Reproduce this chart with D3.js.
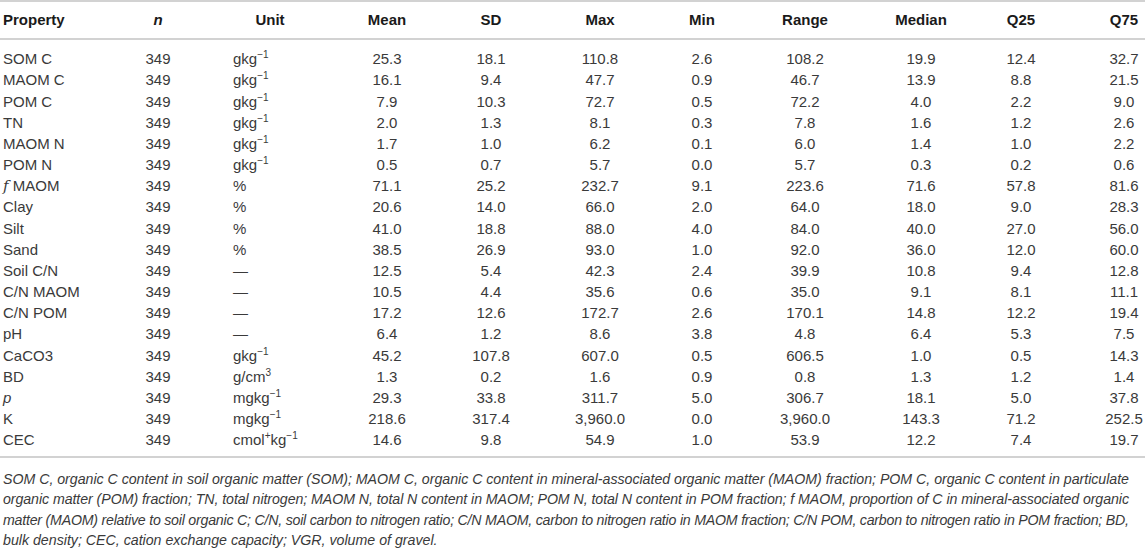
<!DOCTYPE html>
<html lang="en">

<head>
  <meta charset="utf-8">
  <title>Soil property summary table</title>
  <script src="https://d3js.org/d3.v7.min.js"></script>
  <style>
    body { margin: 0; background: #fff; }
    svg { display: block; font-family: "Liberation Sans", Arial, sans-serif; }
  </style>
</head>

<body>
  <svg id="table" width="1145" height="550"></svg>
  <script>
    // table data
    const headers = ["Property", "n", "Unit", "Mean", "SD", "Max", "Min", "Range", "Median", "Q25", "Q75"];
    const properties = ["SOM C", "MAOM C", "POM C", "TN", "MAOM N", "POM N", "f MAOM", "Clay", "Silt", "Sand",
      "Soil C/N", "C/N MAOM", "C/N POM", "pH", "CaCO3", "BD", "p", "K", "CEC"];
    const nValues = [349, 349, 349, 349, 349, 349, 349, 349, 349, 349, 349, 349, 349, 349, 349, 349, 349, 349, 349];
    const units = ["gkg^{−1}", "gkg^{−1}", "gkg^{−1}", "gkg^{−1}", "gkg^{−1}", "gkg^{−1}", "%", "%", "%", "%",
      "—", "—", "—", "—", "gkg^{−1}", "g/cm^{3}", "mgkg^{−1}", "mgkg^{−1}", "cmol^{+}kg^{−1}"];
    const mean = [25.3, 16.1, 7.9, 2.0, 1.7, 0.5, 71.1, 20.6, 41.0, 38.5, 12.5, 10.5, 17.2, 6.4, 45.2, 1.3, 29.3, 218.6, 14.6];
    const sd = [18.1, 9.4, 10.3, 1.3, 1.0, 0.7, 25.2, 14.0, 18.8, 26.9, 5.4, 4.4, 12.6, 1.2, 107.8, 0.2, 33.8, 317.4, 9.8];
    const maxV = [110.8, 47.7, 72.7, 8.1, 6.2, 5.7, 232.7, 66.0, 88.0, 93.0, 42.3, 35.6, 172.7, 8.6, 607.0, 1.6, 311.7, 3960.0, 54.9];
    const minV = [2.6, 0.9, 0.5, 0.3, 0.1, 0.0, 9.1, 2.0, 4.0, 1.0, 2.4, 0.6, 2.6, 3.8, 0.5, 0.9, 5.0, 0.0, 1.0];
    const rangeV = [108.2, 46.7, 72.2, 7.8, 6.0, 5.7, 223.6, 64.0, 84.0, 92.0, 39.9, 35.0, 170.1, 4.8, 606.5, 0.8, 306.7, 3960.0, 53.9];
    const median = [19.9, 13.9, 4.0, 1.6, 1.4, 0.3, 71.6, 18.0, 40.0, 36.0, 10.8, 9.1, 14.8, 6.4, 1.0, 1.3, 18.1, 143.3, 12.2];
    const q25 = [12.4, 8.8, 2.2, 1.2, 1.0, 0.2, 57.8, 9.0, 27.0, 12.0, 9.4, 8.1, 12.2, 5.3, 0.5, 1.2, 5.0, 71.2, 7.4];
    const q75 = [32.7, 21.5, 9.0, 2.6, 2.2, 0.6, 81.6, 28.3, 56.0, 60.0, 12.8, 11.1, 19.4, 7.5, 14.3, 1.4, 37.8, 252.5, 19.7];
    const footnote = [
      "SOM C, organic C content in soil organic matter (SOM); MAOM C, organic C content in mineral-associated organic matter (MAOM) fraction; POM C, organic C content in particulate",
      "organic matter (POM) fraction; TN, total nitrogen; MAOM N, total N content in MAOM; POM N, total N content in POM fraction; f MAOM, proportion of C in mineral-associated organic",
      "matter (MAOM) relative to soil organic C; C/N, soil carbon to nitrogen ratio; C/N MAOM, carbon to nitrogen ratio in MAOM fraction; C/N POM, carbon to nitrogen ratio in POM fraction; BD,",
      "bulk density; CEC, cation exchange capacity; VGR, volume of gravel."
    ];

    const statCols = [mean, sd, maxV, minV, rangeV, median, q25, q75];

    const width = 1145;
    const svg = d3.select("#table");
    const fmt = d3.format(",.1f");

    // column centres (Property is left aligned)
    const colX = d3.scaleOrdinal()
      .domain(headers)
      .range([3, 158, 270, 387, 491, 600, 702, 805, 921, 1021, 1124]);
    const unitLeft = 233;

    const rowY = d3.scaleBand()
      .domain(d3.range(properties.length))
      .range([48.5, 450.5]);
    const cy = i => rowY(i) + rowY.bandwidth() / 2;

    const headerY = 20;
    const ruleColor = "#d2d2d2";

    // rules
    svg.selectAll("line.rule")
      .data([1, 39, 457])
      .join("line")
      .attr("class", "rule")
      .attr("x1", 0).attr("x2", width)
      .attr("y1", d => d).attr("y2", d => d)
      .attr("stroke", ruleColor)
      .attr("stroke-width", 1.8);

    // header
    svg.selectAll("text.head")
      .data(headers)
      .join("text")
      .attr("class", "head")
      .attr("x", d => colX(d))
      .attr("y", headerY)
      .attr("dy", "0.35em")
      .attr("text-anchor", d => d === "Property" ? "start" : "middle")
      .attr("font-size", 15)
      .attr("font-weight", "bold")
      .attr("font-style", d => d === "n" ? "italic" : "normal")
      .attr("fill", "#1a1a1a")
      .text(d => d);

    const body = svg.append("g").attr("fill", "#3a3a3a").attr("font-size", 15);

    // property names
    body.selectAll("text.prop")
      .data(properties)
      .join("text")
      .attr("class", "prop")
      .attr("x", colX("Property"))
      .attr("y", (d, i) => cy(i))
      .attr("dy", "0.35em")
      .each(function (d) {
        const t = d3.select(this);
        if (d === "p") {
          t.attr("font-style", "italic").text(d);
        } else if (d.startsWith("f ")) {
          t.append("tspan").attr("font-family", "'DejaVu Serif', serif").attr("font-style", "italic").text("f");
          t.append("tspan").text(" " + d.slice(2));
        } else {
          t.text(d);
        }
      });

    // n column
    body.selectAll("text.n")
      .data(nValues)
      .join("text")
      .attr("class", "n")
      .attr("x", colX("n"))
      .attr("y", (d, i) => cy(i))
      .attr("dy", "0.35em")
      .attr("text-anchor", "middle")
      .text(d => d);

    // units with superscripts
    body.selectAll("text.unit")
      .data(units)
      .join("text")
      .attr("class", "unit")
      .attr("x", unitLeft)
      .attr("y", (d, i) => cy(i))
      .attr("dy", "0.35em")
      .each(function (d) {
        const t = d3.select(this);
        const parts = d.split(/(\^\{[^}]*\})/).filter(s => s.length);
        let prevSup = false;
        parts.forEach(p => {
          if (p.startsWith("^{")) {
            t.append("tspan").attr("font-size", 10).attr("dy", -6).text(p.slice(2, -1));
            prevSup = true;
          } else {
            t.append("tspan").attr("dy", prevSup ? 6 : null).text(p);
            prevSup = false;
          }
        });
      });

    // numeric statistics
    statCols.forEach((col, c) => {
      const key = headers[c + 3];
      body.selectAll("text.s" + c)
        .data(col)
        .join("text")
        .attr("class", "s" + c)
        .attr("x", colX(key))
        .attr("y", (d, i) => cy(i))
        .attr("dy", "0.35em")
        .attr("text-anchor", "middle")
        .text(d => fmt(d));
    });

    // footnote, first three lines justified to the table width
    svg.append("g")
      .attr("font-size", 14.2)
      .attr("font-style", "italic")
      .attr("fill", "#3a3a3a")
      .selectAll("text")
      .data(footnote)
      .join("text")
      .attr("x", 3)
      .attr("y", (d, i) => 479 + i * 20.4)
      .attr("dy", "0.35em")
      .attr("textLength", (d, i) => i < footnote.length - 1 ? 1126 : null)
      .attr("lengthAdjust", "spacing")
      .text(d => d);
  </script>
</body>

</html>
